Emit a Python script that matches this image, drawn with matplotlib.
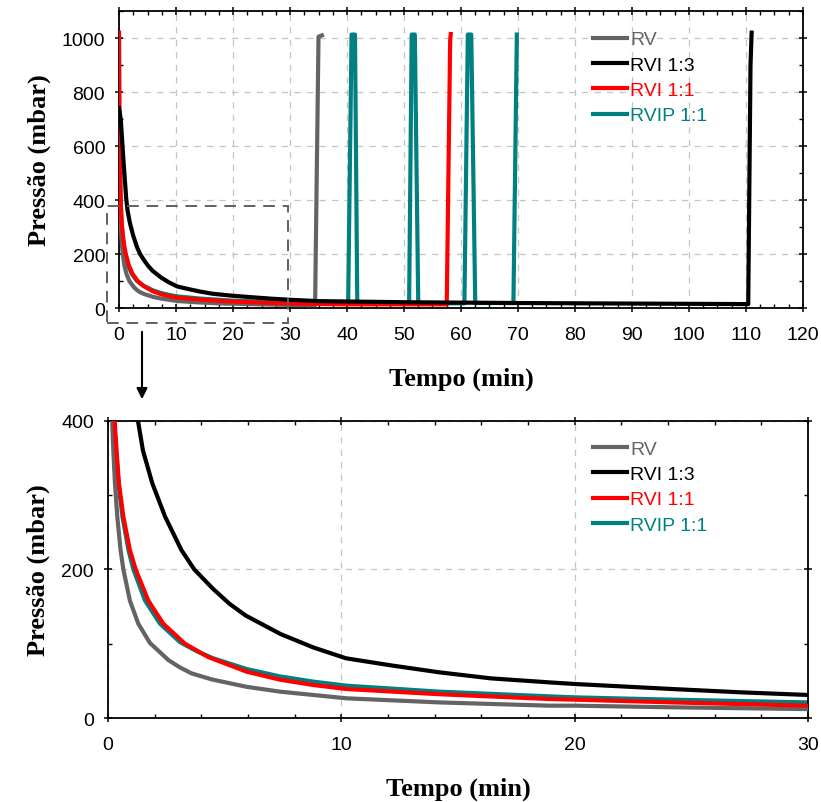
import matplotlib
matplotlib.use("Agg")
import matplotlib.pyplot as plt
from matplotlib.patches import Rectangle
from matplotlib.ticker import MultipleLocator

# pressure curves (time in min, pressure in mbar)
rv_t = [0, 0.19, 0.23, 0.30, 0.40, 0.54, 0.66, 0.94, 1.30, 1.80, 2.59, 3.09,
        3.59, 4.44, 5.94, 7.37, 8.8, 10.23, 14.2, 18.9, 20, 24.2, 30,
        34.4, 35.0, 35.6]
rv_p = [600, 392, 360, 316, 271, 226, 200, 158, 127, 101, 78, 68,
        60, 52, 42, 35.5, 31, 26.5, 21, 16.6, 16.6, 14.4, 12,
        11, 1005, 1010]

rvi13_t = [0, 0.3, 0.76, 1.26, 1.5, 1.9, 2.45, 3.15, 3.7, 4.5, 5.2, 5.9, 7.4,
           8.8, 10.2, 12.1, 14.2, 16.4, 18.9, 20, 24.2, 27.1, 30, 35, 50,
           70, 90, 110.4, 110.8, 111.0]
rvi13_p = [740, 700, 551, 405, 360, 316, 271, 226, 200, 174, 154, 138, 113,
           95, 80.4, 71, 61.5, 53.4, 48, 45.8, 39, 34.6, 31, 26, 22,
           19, 17, 15, 900, 1020]

rvi11_t = [0, 0.12, 0.30, 0.37, 0.47, 0.66, 0.94, 1.19, 1.73, 2.37, 3.30, 4.30,
           5.94, 7.37, 8.8, 10.23, 14.2, 18.9, 20, 24.2, 30, 40, 57.5, 58.1, 58.2]
rvi11_p = [1020, 600, 392, 360, 316, 271, 226, 200, 158, 127, 100, 82,
           62.4, 51.6, 44.4, 39, 32, 25.6, 24.7, 21, 16.6, 14, 14, 990, 1015]

rvip_t = [0, 0.28, 0.35, 0.45, 0.62, 0.88, 1.09, 1.59, 2.23, 3.09, 3.8, 4.5,
          5.94, 7.37, 8.8, 10.23, 14.2, 18.9, 20, 24.2, 30,
          40.2, 40.8, 41.4, 41.8, 50.9, 51.35, 51.9, 52.5,
          60.6, 61.2, 61.8, 62.5, 69.2, 69.8]
rvip_p = [700, 392, 360, 316, 271, 226, 200, 158, 127, 102, 90, 80.5,
          66, 56, 49, 43.5, 35.5, 29.2, 27.8, 24.7, 21,
          19, 1013, 1013, 19, 19, 1013, 1013, 18,
          18, 1013, 1013, 19, 19, 1013]

labels = ["RV", "RVI 1:3", "RVI 1:1", "RVIP 1:1"]
colors = ["#646464", "#000000", "#ff0000", "#008080"]
series = [(rv_t, rv_p), (rvi13_t, rvi13_p), (rvi11_t, rvi11_p), (rvip_t, rvip_p)]
zorders = [3, 5, 4, 2]

# zoomed region marked on the upper panel: x0, y0, x1, y1
zoom_box = (-2.1, -55, 29.6, 377)

plt.rcParams["font.family"] = ["Liberation Sans", "DejaVu Sans"]
label_font = dict(family=["Liberation Serif", "DejaVu Serif"], weight="bold", size=19)


def style_axis(ax, xlim, ylim, xmajor, xminor, ymajor, yminor):
    """
    Limits, ticks, grid and spines shared by both panels
    """
    ax.set_xlim(*xlim)
    ax.set_ylim(*ylim)
    ax.xaxis.set_major_locator(MultipleLocator(xmajor))
    ax.xaxis.set_minor_locator(MultipleLocator(xminor))
    ax.yaxis.set_major_locator(MultipleLocator(ymajor))
    ax.yaxis.set_minor_locator(MultipleLocator(yminor))
    ax.tick_params(which="major", direction="inout", length=6, width=1.1,
                   labelsize=14, top=True, right=True)
    ax.tick_params(which="minor", direction="in", length=3, width=1.0,
                   top=True, right=True)
    ax.tick_params(axis="x", which="major", pad=10)
    ax.tick_params(axis="y", which="major", pad=7)
    ax.tick_params(axis="x", which="both", labeltop=False)
    ax.tick_params(axis="y", which="both", labelright=False)
    ax.grid(True, which="major", color="#c4c4c4", linestyle=(0, (5, 5)), linewidth=0.9)
    ax.set_axisbelow(True)
    for sp in ax.spines.values():
        sp.set_linewidth(1.3)
    ax.set_xlabel("Tempo (min)", fontdict=label_font, labelpad=17)
    ax.set_ylabel("Pressão (mbar)", fontdict=label_font, labelpad=8)


def plot_series(ax, legend_y):
    """
    Draw the four curves and the coloured legend
    """
    for (t, p), lab, col, z in zip(series, labels, colors, zorders):
        ax.plot(t, p, color=col, lw=3.0, label=lab, zorder=z,
                solid_joinstyle="round")
    leg = ax.legend(loc="upper left", bbox_to_anchor=(593 / 821, legend_y),
                    bbox_transform=fig.transFigure, frameon=False, fontsize=14,
                    handlelength=1.75, handletextpad=0.15, labelspacing=0.4,
                    borderpad=0, borderaxespad=0)
    for txt, col in zip(leg.get_texts(), colors):
        txt.set_color(col)
    for line in leg.get_lines():
        line.set_linewidth(3)


fig = plt.figure(figsize=(8.21, 8.03), dpi=100)
ax1 = fig.add_axes([0.145, 0.615, 0.833, 0.370])
ax2 = fig.add_axes([0.1315, 0.1046, 0.8526, 0.370])

style_axis(ax1, (0, 120), (0, 1100), 10, 2.5, 200, 100)
style_axis(ax2, (0, 30), (0, 400), 10, 2, 200, 100)
plot_series(ax1, 0.9605)
plot_series(ax2, 0.4508)

x0, y0, x1, y1 = zoom_box
ax1.add_patch(Rectangle((x0, y0), x1 - x0, y1 - y0, fill=False, edgecolor="#606060",
                        linestyle=(0, (6, 4)), linewidth=1.4, clip_on=False, zorder=6))
fig.add_artist(plt.Annotation("", xy=(142 / 821, 1 - 403 / 803), xycoords="figure fraction",
                              xytext=(142 / 821, 1 - 330 / 803), textcoords="figure fraction",
                              arrowprops=dict(arrowstyle="-|>", color="black", lw=1.5,
                                              mutation_scale=16)))

fig.savefig("out.png", dpi=100)
